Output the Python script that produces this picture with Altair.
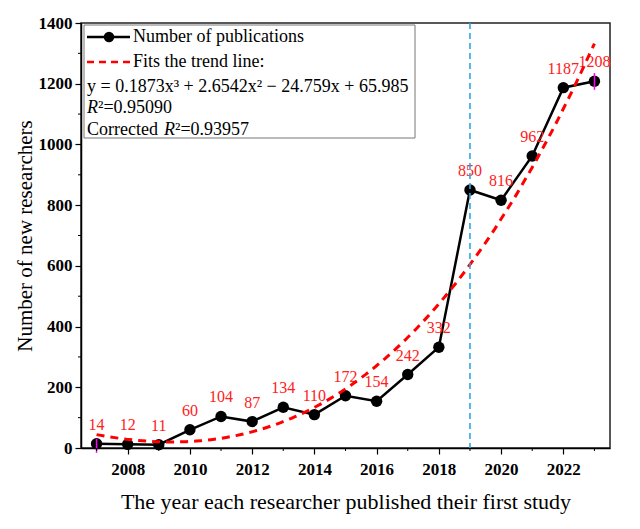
import altair as alt
import pandas as pd

# ---- data ----
years = list(range(2007, 2024))
counts = [14, 12, 11, 60, 104, 87, 134, 110, 172, 154, 242, 332, 850, 816, 962, 1187, 1208]
idx = list(range(1, 18))

err_years = [2007, 2023]
err_lo = [-16, 1180]
err_hi = [30, 1235]

vline_year = [2019]

x_major = [2008, 2010, 2012, 2014, 2016, 2018, 2020, 2022]
x_minor = [2007, 2009, 2011, 2013, 2015, 2017, 2019, 2021, 2023]
y_major = [0, 200, 400, 600, 800, 1000, 1200, 1400]
y_minor = [100, 300, 500, 700, 900, 1100, 1300]

W, H = 529, 425
FONT = "Liberation Serif"

df = pd.DataFrame({"year": years, "count": counts, "idx": idx})
df_err = pd.DataFrame({"year": err_years, "lo": err_lo, "hi": err_hi})
df_v = pd.DataFrame({"year": vline_year})
df_xm = pd.DataFrame({"year": x_minor})
df_ym = pd.DataFrame({"v": y_minor})
one = pd.DataFrame({"a": [0]})

xscale = alt.Scale(domain=[2006.5, 2023.5], nice=False, zero=False)
yscale = alt.Scale(domain=[0, 1400], nice=False)

xenc = alt.X("year:Q", scale=xscale,
             axis=alt.Axis(values=x_major, format="d", tickSize=6, labelPadding=7,
                           title="The year each researcher published their first study",
                           titlePadding=14, titleFontSize=22))
yenc = alt.Y("count:Q", scale=yscale,
             axis=alt.Axis(values=y_major, format="d", tickSize=6, labelPadding=3,
                           title="Number of new researchers", titlePadding=3, titleFontSize=21))

base = alt.Chart(df)

line = base.mark_line(color="black", strokeWidth=2.5).encode(x=xenc, y=yenc)
pts = base.mark_circle(color="black", size=130, opacity=1).encode(x="year:Q", y="count:Q")

labels = base.mark_text(color="#ff2020", font=FONT, fontSize=16, dy=-19).encode(
    x="year:Q", y="count:Q", text="count:Q")

err = alt.Chart(df_err).mark_rule(color="#ff00ff", strokeWidth=1.5).encode(
    x="year:Q", y=alt.Y("lo:Q"), y2="hi:Q")

trend = base.transform_regression(
    "idx", "count", method="poly", order=3, extent=[1, 17]
).transform_calculate(year="datum.idx + 2006").mark_line(
    color="#ff0000", strokeWidth=3, strokeDash=[8, 6]
).encode(x="year:Q", y="count:Q")

vline = alt.Chart(df_v).mark_rule(color="#2aa7e8", strokeWidth=1.6, strokeDash=[6, 4]).encode(
    x="year:Q", y=alt.value(0), y2=alt.value(H))

xminor = alt.Chart(df_xm).mark_rule(color="black", strokeWidth=1).encode(
    x="year:Q", y=alt.value(H), y2=alt.value(H + 3))
yminor = alt.Chart(df_ym).mark_rule(color="black", strokeWidth=1).encode(
    y=alt.Y("v:Q"), x=alt.value(0), x2=alt.value(-3))

# ---- legend box ----
leg_box = alt.Chart(one).mark_rect(fill="white", stroke="#777", strokeWidth=1).encode(
    x=alt.value(3), x2=alt.value(334), y=alt.value(2), y2=alt.value(115))
leg_l1 = alt.Chart(one).mark_rule(color="black", strokeWidth=2.5).encode(
    x=alt.value(6), x2=alt.value(49), y=alt.value(14))
leg_p1 = alt.Chart(one).mark_circle(color="black", size=110, opacity=1).encode(
    x=alt.value(28), y=alt.value(14))
leg_l2 = alt.Chart(one).mark_rule(color="#ff0000", strokeWidth=2.5, strokeDash=[7, 5]).encode(
    x=alt.value(6), x2=alt.value(49), y=alt.value(39))

def txt(s, x, y, style="normal"):
    return alt.Chart(one).mark_text(font=FONT, fontSize=18, align="left", baseline="middle",
                                    color="black", fontStyle=style).encode(
        x=alt.value(x), y=alt.value(y), text=alt.value(s))

leg_texts = [
    txt("Number of publications", 52, 14),
    txt("Fits the trend line:", 52, 39),
    txt("y = 0.1873x\u00b3 + 2.6542x\u00b2 \u2212 24.759x + 65.985", 6, 64),
    txt("R", 6, 85, "italic"),
    txt("\u00b2=0.95090", 17, 85),
    txt("Corrected ", 6, 107),
    txt("R", 83, 107, "italic"),
    txt("\u00b2=0.93957", 94, 107),
]

chart = alt.layer(
    line, pts, labels, err, trend, vline, xminor, yminor,
    leg_box, leg_l1, leg_p1, leg_l2, *leg_texts
).properties(
    width=W, height=H,
    autosize=alt.AutoSizeParams(type="none"),
    padding={"left": 73, "top": 15, "right": 20, "bottom": 66},
).configure_view(
    stroke="#222", strokeWidth=1.5
).configure_axis(
    grid=False, domainColor="black", domainWidth=1.5, tickColor="black", tickWidth=1.2,
    labelFont=FONT, labelFontWeight="bold", labelFontSize=17, labelColor="black",
    titleFont=FONT, titleFontWeight="normal", titleColor="black",
)

chart.save("out.html", embed_options={"renderer": "svg", "actions": False})
